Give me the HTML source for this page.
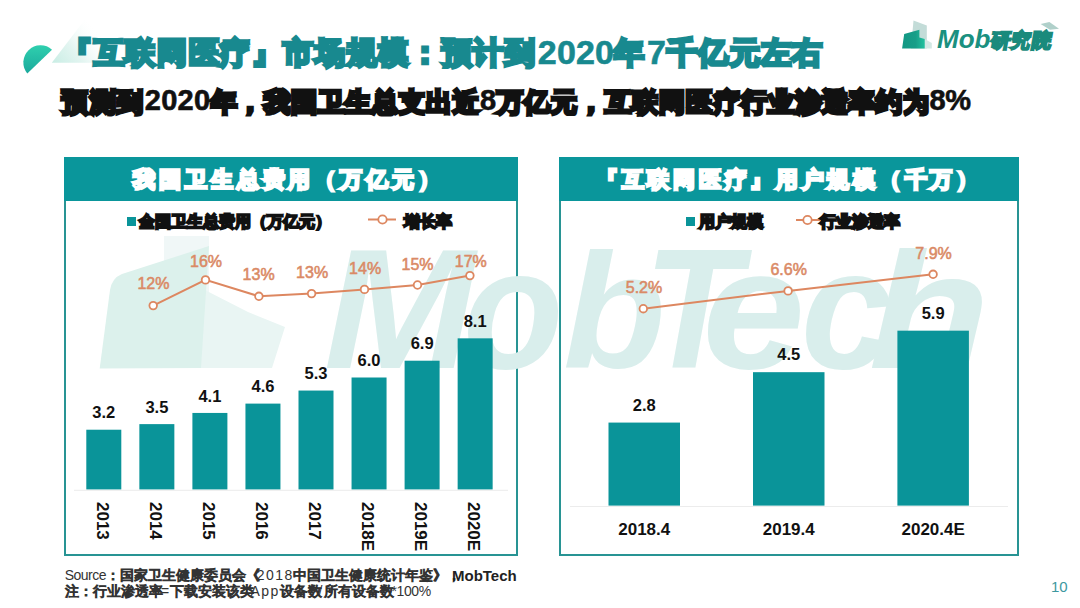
<!DOCTYPE html>
<html><head><meta charset="utf-8">
<style>
html,body{margin:0;padding:0;background:#fff;}
body{width:1080px;height:608px;overflow:hidden;position:relative;font-family:"Liberation Sans",sans-serif;}
.tl{position:absolute;white-space:nowrap;}
.tl .lt{line-height:0;}
.tl .cj{-webkit-text-stroke:var(--sk) currentColor;font-size:1.0em;line-height:0;}
.panel{position:absolute;top:157px;height:397px;border:2px solid #289494;border-top:none;}
.phead{position:absolute;left:-2px;right:-2px;top:0;height:44px;background:#0a969b;}
svg{position:absolute;left:0;top:0;}
</style></head><body>
<svg width="160" height="90" viewBox="0 0 160 90">
  <defs>
    <linearGradient id="tri" gradientUnits="userSpaceOnUse" x1="52" y1="64" x2="96" y2="28">
      <stop offset="0" stop-color="#c8ede4"/>
      <stop offset="0.45" stop-color="#e3f5f1"/>
      <stop offset="1" stop-color="#ffffff" stop-opacity="0"/>
    </linearGradient>
    <linearGradient id="semi" x1="0" y1="0" x2="0" y2="1">
      <stop offset="0" stop-color="#2fcfae"/>
      <stop offset="1" stop-color="#1aa99c"/>
    </linearGradient>
  </defs>
  <polygon points="51.8,62.7 84.9,19.6 120,19.6 120,62.7" fill="url(#tri)"/>
  <path d="M27.3,73.5 A17.2,17.2 0 0 1 52,49.7 Z" fill="url(#semi)"/>
</svg>
<svg width="1080" height="70" viewBox="0 0 1080 70">
  <defs><linearGradient id="mg" x1="0" y1="0" x2="1" y2="0"><stop offset="0" stop-color="#129884"/><stop offset="0.6" stop-color="#179e88"/><stop offset="1" stop-color="#22c29f"/></linearGradient></defs>
  <polygon points="913.5,20.5 926.8,25.5 926.8,48.4 911,48.4" fill="#c3dcd8"/>
  <polygon points="924.7,38.9 931.8,43.1 931.8,48.4 924.7,48.4" fill="#d3e8e4"/>
  <polygon points="902.1,48.4 904.2,33.9 919.4,29.7 919.4,37.5 924.7,38.9 924.7,48.4" fill="url(#mg)"/>
  <polygon points="1040.6,23.9 1049.4,22 1059,28.7 1050,29.8" fill="#b0d0ca"/>
  <text x="937" y="48" font-size="26" font-weight="bold" font-style="italic" fill="#1a9080" font-family="Liberation Sans">Mob</text>
</svg>
<div class="panel" style="left:64px;width:450px;"><div class="phead"></div></div>
<div class="panel" style="left:559px;width:456px;"><div class="phead"></div></div>
<svg width="1080" height="608" viewBox="0 0 1080 608">
  <polygon points="164,236 209,236 209,368 164,368" fill="#f0f7f7"/>
  <polygon points="201,288 248,312 285,327 272,368 201,368" fill="#e9f5f3"/>
  <path d="M99.7,368.4 L110,290 Q112,278 122,274 L209,246 L201,368 Z" fill="#dcf1ec"/>
  <g font-family="Liberation Sans" font-weight="bold" font-style="italic" font-size="171" fill="#d9eeec">
<text transform="translate(323.8,368) scale(1.060,1)">M</text>
<text transform="translate(462.9,368) scale(0.961,1)">o</text>
<text transform="translate(563.1,368) scale(0.983,0.96)">b</text>
<text transform="translate(643.7,368) scale(0.929,1)">T</text>
<text transform="translate(702.3,368) scale(1.081,1)">e</text>
<text transform="translate(800.9,368) scale(0.962,1)">c</text>
<text transform="translate(868.6,368) scale(1.166,0.97)">h</text>
  </g>
</svg>
<svg width="1080" height="608" viewBox="0 0 1080 608">
<style>.vl{font-size:16.5px;font-weight:bold;fill:#111;font-family:"Liberation Sans",sans-serif}.xl{font-size:17px;font-weight:bold;fill:#111;font-family:"Liberation Sans",sans-serif}.pl{font-size:16px;fill:#da8a66;stroke:#da8a66;stroke-width:0.55px;font-family:"Liberation Sans",sans-serif}</style>
<line x1="74" y1="490.3" x2="508" y2="490.3" stroke="#ececec" stroke-width="1"/>
<line x1="570" y1="506.5" x2="1008" y2="506.5" stroke="#ececec" stroke-width="1"/>
<rect x="86.30" y="429.72" width="35" height="59.68" fill="#0a9499"/>
<text x="103.80" y="418.42" text-anchor="middle" class="vl">3.2</text>
<text transform="translate(97.00,502) rotate(90)" class="xl">2013</text>
<rect x="139.35" y="424.12" width="35" height="65.27" fill="#0a9499"/>
<text x="156.85" y="412.82" text-anchor="middle" class="vl">3.5</text>
<text transform="translate(150.05,502) rotate(90)" class="xl">2014</text>
<rect x="192.40" y="412.94" width="35" height="76.46" fill="#0a9499"/>
<text x="209.90" y="401.63" text-anchor="middle" class="vl">4.1</text>
<text transform="translate(203.10,502) rotate(90)" class="xl">2015</text>
<rect x="245.45" y="403.61" width="35" height="85.79" fill="#0a9499"/>
<text x="262.95" y="392.31" text-anchor="middle" class="vl">4.6</text>
<text transform="translate(256.15,502) rotate(90)" class="xl">2016</text>
<rect x="298.50" y="390.56" width="35" height="98.84" fill="#0a9499"/>
<text x="316.00" y="379.25" text-anchor="middle" class="vl">5.3</text>
<text transform="translate(309.20,502) rotate(90)" class="xl">2017</text>
<rect x="351.55" y="377.50" width="35" height="111.90" fill="#0a9499"/>
<text x="369.05" y="366.20" text-anchor="middle" class="vl">6.0</text>
<text transform="translate(362.25,502) rotate(90)" class="xl">2018E</text>
<rect x="404.60" y="360.71" width="35" height="128.69" fill="#0a9499"/>
<text x="422.10" y="349.41" text-anchor="middle" class="vl">6.9</text>
<text transform="translate(415.30,502) rotate(90)" class="xl">2019E</text>
<rect x="457.65" y="338.34" width="35" height="151.06" fill="#0a9499"/>
<text x="475.15" y="327.04" text-anchor="middle" class="vl">8.1</text>
<text transform="translate(468.35,502) rotate(90)" class="xl">2020E</text>
<polyline points="153.2,305.6 205.5,279.9 258.9,296.3 311.6,293.6 364.5,289.4 417.5,285.0 469.9,275.6" fill="none" stroke="#dd8760" stroke-width="2"/>
<circle cx="153.2" cy="305.6" r="3.8" fill="#fff" stroke="#dd8760" stroke-width="1.8"/>
<text x="153.40" y="289.00" text-anchor="middle" class="pl">12%</text>
<circle cx="205.5" cy="279.9" r="3.8" fill="#fff" stroke="#dd8760" stroke-width="1.8"/>
<text x="206.00" y="267.10" text-anchor="middle" class="pl">16%</text>
<circle cx="258.9" cy="296.3" r="3.8" fill="#fff" stroke="#dd8760" stroke-width="1.8"/>
<text x="258.60" y="280.00" text-anchor="middle" class="pl">13%</text>
<circle cx="311.6" cy="293.6" r="3.8" fill="#fff" stroke="#dd8760" stroke-width="1.8"/>
<text x="312.10" y="278.00" text-anchor="middle" class="pl">13%</text>
<circle cx="364.5" cy="289.4" r="3.8" fill="#fff" stroke="#dd8760" stroke-width="1.8"/>
<text x="365.10" y="273.60" text-anchor="middle" class="pl">14%</text>
<circle cx="417.5" cy="285.0" r="3.8" fill="#fff" stroke="#dd8760" stroke-width="1.8"/>
<text x="417.50" y="269.50" text-anchor="middle" class="pl">15%</text>
<circle cx="469.9" cy="275.6" r="3.8" fill="#fff" stroke="#dd8760" stroke-width="1.8"/>
<text x="470.80" y="266.90" text-anchor="middle" class="pl">17%</text>
<rect x="608.5" y="422.58" width="71.5" height="83.02" fill="#0a9499"/>
<text x="644.25" y="410.58" text-anchor="middle" class="vl">2.8</text>
<text x="644.25" y="535.3" text-anchor="middle" class="xl">2018.4</text>
<rect x="753" y="372.18" width="71.5" height="133.42" fill="#0a9499"/>
<text x="788.75" y="360.18" text-anchor="middle" class="vl">4.5</text>
<text x="788.75" y="535.3" text-anchor="middle" class="xl">2019.4</text>
<rect x="897.4" y="330.67" width="71.5" height="174.94" fill="#0a9499"/>
<text x="933.15" y="318.67" text-anchor="middle" class="vl">5.9</text>
<text x="933.15" y="535.3" text-anchor="middle" class="xl">2020.4E</text>
<polyline points="643.3,308.7 788.1,290.9 933.1,274.3" fill="none" stroke="#dd8760" stroke-width="2"/>
<circle cx="643.3" cy="308.7" r="3.8" fill="#fff" stroke="#dd8760" stroke-width="1.8"/>
<text x="644.00" y="293.30" text-anchor="middle" class="pl">5.2%</text>
<circle cx="788.1" cy="290.9" r="3.8" fill="#fff" stroke="#dd8760" stroke-width="1.8"/>
<text x="788.70" y="275.20" text-anchor="middle" class="pl">6.6%</text>
<circle cx="933.1" cy="274.3" r="3.8" fill="#fff" stroke="#dd8760" stroke-width="1.8"/>
<text x="933.60" y="258.50" text-anchor="middle" class="pl">7.9%</text>
<rect x="127" y="217" width="9" height="9" fill="#0a9499"/>
<line x1="368" y1="219.5" x2="396" y2="219.5" stroke="#dd8760" stroke-width="2"/>
<circle cx="382.5" cy="219.5" r="4.2" fill="#fff" stroke="#dd8760" stroke-width="1.8"/>
<rect x="686" y="217" width="9" height="9" fill="#0a9499"/>
<line x1="796" y1="220" x2="820" y2="220" stroke="#dd8760" stroke-width="2"/>
<circle cx="807.5" cy="220" r="4.2" fill="#fff" stroke="#dd8760" stroke-width="1.8"/>
</svg>
<div class="tl" style="left:62.0px;top:38.11px;width:473.0px;text-align:justify;text-align-last:justify;font-size:30px;line-height:30px;color:#18898f;font-weight:bold;--sk:3.5px;"><span class="cj">『互联网医疗』市场规模：预计到</span></div><div class="tl" style="left:537.8px;top:34.72px;font-size:34px;line-height:34px;letter-spacing:0.19px;color:#18898f;font-weight:bold;-webkit-text-stroke:0.6px #18898f">2020</div><div class="tl" style="left:613.0px;top:38.11px;width:32.0px;text-align:center;font-size:30px;line-height:30px;color:#18898f;font-weight:bold;--sk:3.5px;"><span class="cj">年</span></div><div class="tl" style="left:647.0px;top:34.72px;width:18.0px;text-align:center;font-size:34px;line-height:34px;color:#18898f;font-weight:bold;-webkit-text-stroke:0.6px #18898f">7</div><div class="tl" style="left:667.0px;top:38.11px;width:155.0px;text-align:justify;text-align-last:justify;font-size:30px;line-height:30px;color:#18898f;font-weight:bold;--sk:3.5px;"><span class="cj">千亿元左右</span></div><div class="tl" style="left:62.0px;top:88.59px;width:81.0px;text-align:justify;text-align-last:justify;font-size:26px;line-height:26px;color:#111;font-weight:bold;--sk:3.5px;"><span class="cj">预测到</span></div><div class="tl" style="left:144.8px;top:86.05px;font-size:29px;line-height:29px;letter-spacing:0.26px;color:#111;font-weight:bold;-webkit-text-stroke:0.6px #111">2020</div><div class="tl" style="left:210.5px;top:88.59px;width:268.5px;text-align:justify;text-align-last:justify;font-size:26px;line-height:26px;color:#111;font-weight:bold;--sk:3.5px;"><span class="cj">年，我国卫生总支出近</span></div><div class="tl" style="left:480.0px;top:86.05px;width:15.6px;text-align:center;font-size:29px;line-height:29px;color:#111;font-weight:bold;-webkit-text-stroke:0.6px #111">8</div><div class="tl" style="left:497.0px;top:88.59px;width:432.0px;text-align:justify;text-align-last:justify;font-size:26px;line-height:26px;color:#111;font-weight:bold;--sk:3.5px;"><span class="cj">万亿元，互联网医疗行业渗透率约为</span></div><div class="tl" style="left:929.6px;top:86.05px;font-size:29px;line-height:29px;letter-spacing:-0.50px;color:#111;font-weight:bold;-webkit-text-stroke:0.6px #111">8%</div><div class="tl" style="left:133px;top:169.38px;width:307px;font-size:22px;line-height:22px;color:#fff;font-weight:bold;text-align:justify;text-align-last:justify;--sk:2.5px;"><span class="cj">我国卫生总费用（万亿元）</span></div><div class="tl" style="left:596px;top:169.38px;width:382px;font-size:22px;line-height:22px;color:#fff;font-weight:bold;text-align:justify;text-align-last:justify;--sk:2.5px;"><span class="cj">『互联网医疗』用户规模（千万）</span></div><div class="tl" style="left:139px;top:213.88px;width:186px;font-size:15.5px;line-height:15.5px;color:#111;font-weight:bold;text-align:justify;text-align-last:justify;--sk:2.0px;"><span class="cj">全国卫生总费用（万亿元）</span></div><div class="tl" style="left:404px;top:213.88px;width:48px;font-size:15.5px;line-height:15.5px;color:#111;font-weight:bold;text-align:justify;text-align-last:justify;--sk:2.0px;"><span class="cj">增长率</span></div><div class="tl" style="left:699px;top:213.88px;width:64px;font-size:15.5px;line-height:15.5px;color:#111;font-weight:bold;text-align:justify;text-align-last:justify;--sk:2.0px;"><span class="cj">用户规模</span></div><div class="tl" style="left:820px;top:213.88px;width:80px;font-size:15.5px;line-height:15.5px;color:#111;font-weight:bold;text-align:justify;text-align-last:justify;--sk:2.0px;"><span class="cj">行业渗透率</span></div><div class="tl" style="left:989px;top:31.49px;width:61px;font-size:19.5px;line-height:19.5px;color:#1a8a7c;font-weight:bold;text-align:justify;text-align-last:justify;--sk:2.0px;transform:skewX(-10deg);transform-origin:0 100%;"><span class="cj">研究院</span></div><div class="tl" style="left:64.7px;top:568.15px;font-size:14px;line-height:14px;letter-spacing:-0.50px;color:#333;font-weight:normal;-webkit-text-stroke:0px #333">Source</div><div class="tl" style="left:106.0px;top:568.57px;width:150.0px;text-align:justify;text-align-last:justify;font-size:13.5px;line-height:13.5px;color:#333;font-weight:normal;--sk:1.0px;"><span class="cj">：国家卫生健康委员会《</span></div><div class="tl" style="left:256.7px;top:568.15px;font-size:14px;line-height:14px;letter-spacing:1.45px;color:#333;font-weight:normal;-webkit-text-stroke:0px #333">2018</div><div class="tl" style="left:292.5px;top:568.57px;width:154.5px;text-align:justify;text-align-last:justify;font-size:13.5px;line-height:13.5px;color:#333;font-weight:normal;--sk:1.0px;"><span class="cj">中国卫生健康统计年鉴》，</span></div><div class="tl" style="left:452px;top:568px;font-size:15px;line-height:15px;color:#222;font-weight:bold">MobTech</div><div class="tl" style="left:65.0px;top:584.57px;width:95.5px;text-align:justify;text-align-last:justify;font-size:13.5px;line-height:13.5px;color:#333;font-weight:normal;--sk:1.0px;"><span class="cj">注：行业渗透率</span></div><div class="tl" style="left:161.0px;top:584.15px;width:8.0px;text-align:center;font-size:14px;line-height:14px;color:#333;font-weight:normal;-webkit-text-stroke:0px #333">=</div><div class="tl" style="left:169.5px;top:584.57px;width:80.5px;text-align:justify;text-align-last:justify;font-size:13.5px;line-height:13.5px;color:#333;font-weight:normal;--sk:1.0px;"><span class="cj">下载安装该类</span></div><div class="tl" style="left:250.5px;top:584.15px;font-size:14px;line-height:14px;letter-spacing:1.50px;color:#333;font-weight:normal;-webkit-text-stroke:0px #333">App</div><div class="tl" style="left:279.5px;top:584.57px;width:38.5px;text-align:justify;text-align-last:justify;font-size:13.5px;line-height:13.5px;color:#333;font-weight:normal;--sk:1.0px;"><span class="cj">设备数</span></div><div class="tl" style="left:317.5px;top:584.15px;width:6.0px;text-align:center;font-size:14px;line-height:14px;color:#333;font-weight:normal;-webkit-text-stroke:0px #333">/</div><div class="tl" style="left:323.5px;top:584.57px;width:67.5px;text-align:justify;text-align-last:justify;font-size:13.5px;line-height:13.5px;color:#333;font-weight:normal;--sk:1.0px;"><span class="cj">所有设备数</span></div><div class="tl" style="left:391.4px;top:584.15px;font-size:14px;line-height:14px;letter-spacing:-0.36px;color:#333;font-weight:normal;-webkit-text-stroke:0px #333">*100%</div><div class="tl" style="left:1051px;top:579px;font-size:15px;line-height:15px;color:#3d98a0;">10</div>
</body></html>
